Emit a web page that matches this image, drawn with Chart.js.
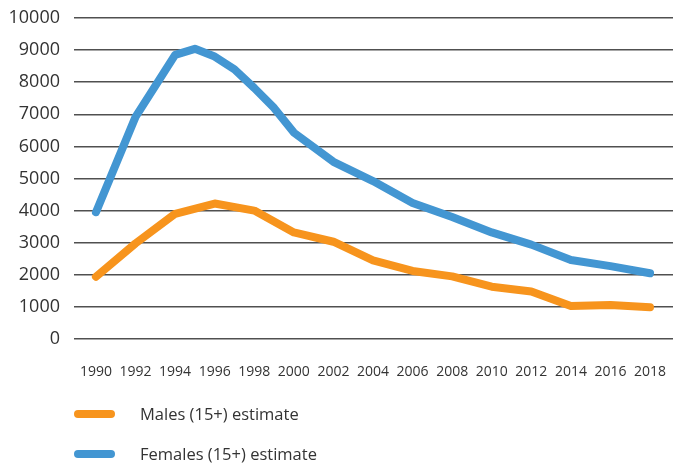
<!DOCTYPE html>
<html>
<head>
<meta charset="utf-8">
<script src="https://cdn.jsdelivr.net/npm/chart.js@4/dist/chart.umd.min.js"></script>
<style>
  html, body { margin: 0; padding: 0; background: #ffffff; }
  #wrap { width: 673px; height: 463px; position: relative; }
</style>
</head>
<body>
<div id="wrap"><canvas id="chart" width="673" height="463"></canvas></div>
<script>
// Estimated adult population by sex, 1990-2018
const maleYears   = [1990, 1992, 1994, 1996, 1998, 2000, 2002, 2004, 2006, 2008, 2010, 2012, 2014, 2016, 2018];
const maleValues  = [1940, 2980, 3900, 4220, 4000, 3320, 3030, 2450, 2120, 1950, 1630, 1480, 1030, 1060, 990];

const femaleYears  = [1990, 1992, 1994, 1995, 1996, 1997, 1998, 1999, 2000, 2002, 2004, 2006, 2008, 2010, 2012, 2014, 2016, 2018];
const femaleValues = [3950, 6920, 8850, 9040, 8800, 8400, 7820, 7200, 6430, 5520, 4920, 4240, 3800, 3320, 2940, 2460, 2270, 2050];

const xTickYears  = [1990, 1992, 1994, 1996, 1998, 2000, 2002, 2004, 2006, 2008, 2010, 2012, 2014, 2016, 2018];
const yTickValues = [0, 1000, 2000, 3000, 4000, 5000, 6000, 7000, 8000, 9000, 10000];

const seriesLabels = ['Males (15+) estimate', 'Females (15+) estimate'];
const seriesColors = ['#f7941d', '#4396d2'];

const toPoints = (xs, ys) => xs.map((x, i) => ({ x: x, y: ys[i] }));

const FONT = '"Open Sans", "Noto Sans", sans-serif';
const TEXT = '#333333';

// Legend stacked under the plot: a short thick stroke followed by the label
const stackedLegend = {
  id: 'stackedLegend',
  afterDraw(chart) {
    const ctx = chart.ctx;
    const rows = [414, 454];
    ctx.save();
    chart.data.datasets.forEach((ds, i) => {
      const y = rows[i];
      ctx.beginPath();
      ctx.strokeStyle = ds.borderColor;
      ctx.lineWidth = 8;
      ctx.lineCap = 'round';
      ctx.moveTo(78, y);
      ctx.lineTo(111, y);
      ctx.stroke();
      ctx.fillStyle = TEXT;
      ctx.font = '16.5px ' + FONT;
      ctx.textBaseline = 'middle';
      ctx.textAlign = 'left';
      ctx.fillText(ds.label, 140, y + 1);
    });
    ctx.restore();
  }
};

new Chart(document.getElementById('chart'), {
  type: 'line',
  data: {
    datasets: [
      {
        label: seriesLabels[0],
        data: toPoints(maleYears, maleValues),
        borderColor: seriesColors[0],
        backgroundColor: seriesColors[0],
        borderWidth: 8,
        borderCapStyle: 'round',
        borderJoinStyle: 'round',
        pointRadius: 0,
        tension: 0
      },
      {
        label: seriesLabels[1],
        data: toPoints(femaleYears, femaleValues),
        borderColor: seriesColors[1],
        backgroundColor: seriesColors[1],
        borderWidth: 8,
        borderCapStyle: 'round',
        borderJoinStyle: 'round',
        pointRadius: 0,
        tension: 0
      }
    ]
  },
  options: {
    responsive: false,
    animation: false,
    events: [],
    layout: { padding: { top: 18, right: 0, left: 0, bottom: 0 } },
    plugins: {
      legend: { display: false },
      tooltip: { enabled: false }
    },
    scales: {
      x: {
        type: 'linear',
        min: 1988.89,
        max: 2019.16,
        afterBuildTicks(scale) {
          scale.ticks = xTickYears.map(v => ({ value: v }));
        },
        afterFit(scale) {
          scale.height = 124;
          scale.paddingLeft = 0;
          scale.paddingRight = 0;
        },
        grid: { display: false, drawTicks: false },
        border: { display: false },
        ticks: {
          padding: 25,
          color: TEXT,
          font: { family: FONT, size: 14 },
          maxRotation: 0,
          autoSkip: false,
          callback: v => String(v)
        }
      },
      y: {
        min: 0,
        max: 10000,
        afterBuildTicks(scale) {
          scale.ticks = yTickValues.map(v => ({ value: v }));
        },
        afterFit(scale) {
          scale.width = 74;
          scale.paddingTop = 0;
          scale.paddingBottom = 0;
        },
        grid: { color: '#505050', lineWidth: 1.5, drawTicks: false },
        border: { display: false },
        ticks: {
          padding: 14,
          color: TEXT,
          font: { family: FONT, size: 18 },
          callback: v => String(v)
        }
      }
    }
  },
  plugins: [stackedLegend]
});
</script>
</body>
</html>
